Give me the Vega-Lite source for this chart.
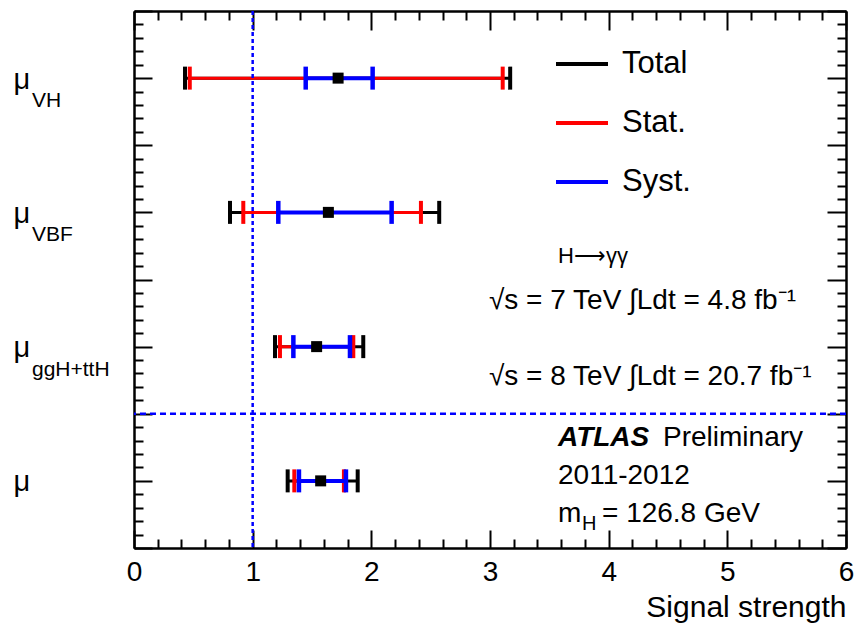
{
  "$schema": "https://vega.github.io/schema/vega-lite/v6.json",
  "width": 712,
  "height": 537,
  "autosize": {"type": "none"},
  "padding": {"left": 134, "top": 11, "right": 10, "bottom": 78},
  "background": "white",
  "config": {
    "view": {"stroke": null},
    "font": "Liberation Sans",
    "axis": {
      "grid": false,
      "domainColor": "black",
      "domainWidth": 2,
      "tickColor": "black",
      "tickWidth": 2,
      "labelFont": "Liberation Sans",
      "labelColor": "black",
      "titleFont": "Liberation Sans",
      "titleColor": "black",
      "titleFontWeight": "normal",
      "labelFlush": false,
      "labelOverlap": false
    }
  },
  "datasets": {
    "mu": [
      {"param": "VH", "pos": 7, "mu": 1.72, "tot_lo": 0.43, "tot_hi": 3.17, "stat_lo": 0.47, "stat_hi": 3.107, "syst_lo": 1.447, "syst_hi": 2.011},
      {"param": "VBF", "pos": 5, "mu": 1.638, "tot_lo": 0.809, "tot_hi": 2.572, "stat_lo": 0.921, "stat_hi": 2.418, "syst_lo": 1.216, "syst_hi": 2.171},
      {"param": "ggH+ttH", "pos": 3, "mu": 1.539, "tot_lo": 1.188, "tot_hi": 1.932, "stat_lo": 1.23, "stat_hi": 1.848, "syst_lo": 1.343, "syst_hi": 1.82},
      {"param": "", "pos": 1, "mu": 1.573, "tot_lo": 1.295, "tot_hi": 1.885, "stat_lo": 1.351, "stat_hi": 1.769, "syst_lo": 1.39, "syst_hi": 1.786}
    ]
  },
  "data": {"name": "mu"},
  "layer": [
    {
      "mark": {"type": "rule", "strokeWidth": 3},
      "encoding": {
        "x": {
          "field": "tot_lo", "type": "quantitative",
          "scale": {"domain": [0, 6], "nice": false, "zero": false},
          "axis": {"orient": "bottom", "values": [0, 1, 2, 3, 4, 5, 6], "tickSize": -18, "labelPadding": 28, "labelFontSize": 28, "title": "Signal strength", "titleFontSize": 30, "titleAnchor": "end", "titlePadding": 6}
        },
        "x2": {"field": "tot_hi"},
        "y": {
          "field": "pos", "type": "quantitative",
          "scale": {"domain": [0, 8], "nice": false, "zero": false},
          "axis": {"orient": "left", "values": [0, 1, 2, 3, 4, 5, 6, 7, 8], "tickSize": -18, "labelExpr": "datum.value % 2 == 1 ? 'μ' : ''", "labelAlign": "left", "labelBaseline": "alphabetic", "labelPadding": 139, "labelOffset": 10, "labelFontSize": 29, "title": null}
        },
        "color": {
          "datum": "Total",
          "scale": {"domain": ["Total", "Stat.", "Syst."], "range": ["#000000", "#ff0000", "#0000ff"]},
          "legend": {"orient": "none", "legendX": 420, "legendY": 25, "title": null, "symbolType": "stroke", "symbolSize": 2704, "symbolStrokeWidth": 4, "labelFontSize": 31, "labelFont": "Liberation Sans", "labelColor": "black", "labelOffset": 12, "rowPadding": 16, "padding": 0}
        }
      }
    },
    {
      "transform": [{"fold": ["tot_lo", "tot_hi"], "as": ["end", "xv"]}],
      "mark": {"type": "tick", "orient": "vertical", "size": 23, "thickness": 4, "opacity": 1},
      "encoding": {
        "x": {"field": "xv", "type": "quantitative", "axis": {"orient": "bottom", "values": [0.2, 0.4, 0.6, 0.8, 1.2, 1.4, 1.6, 1.8, 2.2, 2.4, 2.6, 2.8, 3.2, 3.4, 3.6, 3.8, 4.2, 4.4, 4.6, 4.8, 5.2, 5.4, 5.6, 5.8], "tickSize": -9, "labels": false, "title": null}},
        "y": {"field": "pos", "type": "quantitative", "axis": {"orient": "left", "values": [0.2, 0.4, 0.6, 0.8, 1.2, 1.4, 1.6, 1.8, 2.2, 2.4, 2.6, 2.8, 3.2, 3.4, 3.6, 3.8, 4.2, 4.4, 4.6, 4.8, 5.2, 5.4, 5.6, 5.8, 6.2, 6.4, 6.6, 6.8, 7.2, 7.4, 7.6, 7.8], "tickSize": -9, "labels": false, "title": null}},
        "color": {"datum": "Total"}
      }
    },
    {
      "mark": {"type": "rule", "strokeWidth": 3},
      "encoding": {
        "x": {"field": "stat_lo", "type": "quantitative", "axis": {"orient": "top", "values": [0, 1, 2, 3, 4, 5, 6], "tickSize": -19, "labels": false, "title": null}},
        "x2": {"field": "stat_hi"},
        "y": {"field": "pos", "type": "quantitative", "axis": {"orient": "right", "values": [0, 1, 2, 3, 4, 5, 6, 7, 8], "tickSize": -19, "labels": false, "title": null}},
        "color": {"datum": "Stat."}
      }
    },
    {
      "transform": [{"fold": ["stat_lo", "stat_hi"], "as": ["end", "xv"]}],
      "mark": {"type": "tick", "orient": "vertical", "size": 23, "thickness": 4, "opacity": 1},
      "encoding": {
        "x": {"field": "xv", "type": "quantitative", "axis": {"orient": "top", "values": [0.2, 0.4, 0.6, 0.8, 1.2, 1.4, 1.6, 1.8, 2.2, 2.4, 2.6, 2.8, 3.2, 3.4, 3.6, 3.8, 4.2, 4.4, 4.6, 4.8, 5.2, 5.4, 5.6, 5.8], "tickSize": -9, "labels": false, "title": null}},
        "y": {"field": "pos", "type": "quantitative", "axis": {"orient": "right", "values": [0.2, 0.4, 0.6, 0.8, 1.2, 1.4, 1.6, 1.8, 2.2, 2.4, 2.6, 2.8, 3.2, 3.4, 3.6, 3.8, 4.2, 4.4, 4.6, 4.8, 5.2, 5.4, 5.6, 5.8, 6.2, 6.4, 6.6, 6.8, 7.2, 7.4, 7.6, 7.8], "tickSize": -9, "labels": false, "title": null}},
        "color": {"datum": "Stat."}
      }
    },
    {
      "mark": {"type": "rule", "strokeWidth": 4},
      "encoding": {
        "x": {"field": "syst_lo", "type": "quantitative", "axis": null},
        "x2": {"field": "syst_hi"},
        "y": {"field": "pos", "type": "quantitative", "axis": null},
        "color": {"datum": "Syst."}
      }
    },
    {
      "transform": [{"fold": ["syst_lo", "syst_hi"], "as": ["end", "xv"]}],
      "mark": {"type": "tick", "orient": "vertical", "size": 23, "thickness": 4.5, "opacity": 1},
      "encoding": {
        "x": {"field": "xv", "type": "quantitative", "axis": null},
        "y": {"field": "pos", "type": "quantitative", "axis": null},
        "color": {"datum": "Syst."}
      }
    },
    {
      "data": {"values": [{"ref": 1}]},
      "mark": {"type": "rule", "color": "#0000ff", "strokeWidth": 2.5, "strokeDash": [4, 3]},
      "encoding": {"x": {"field": "ref", "type": "quantitative", "axis": null}}
    },
    {
      "data": {"values": [{"split": 2}]},
      "mark": {"type": "rule", "color": "#0000ff", "strokeWidth": 2.5, "strokeDash": [6, 4]},
      "encoding": {"y": {"field": "split", "type": "quantitative", "axis": null}}
    },
    {
      "mark": {"type": "square", "size": 121, "color": "black", "filled": true, "opacity": 1},
      "encoding": {
        "x": {"field": "mu", "type": "quantitative", "axis": null},
        "y": {"field": "pos", "type": "quantitative", "axis": null}
      }
    },
    {
      "mark": {"type": "text", "align": "left", "baseline": "alphabetic", "dx": -102, "dy": 29, "fontSize": 21, "font": "Liberation Sans", "color": "black"},
      "encoding": {
        "x": {"datum": 0, "type": "quantitative", "axis": null},
        "y": {"field": "pos", "type": "quantitative", "axis": null},
        "text": {"field": "param"}
      }
    },
    {
      "data": {"values": [{"t": "H⟶γγ"}]},
      "mark": {"type": "text", "align": "left", "baseline": "alphabetic", "fontSize": 22, "font": "Liberation Sans", "color": "black"},
      "encoding": {
        "x": {"datum": 3.573, "type": "quantitative", "axis": null},
        "y": {"datum": 4.246, "type": "quantitative", "axis": null},
        "text": {"field": "t"}
      }
    },
    {
      "data": {"values": [{"t": "√s = 7 TeV  ∫Ldt = 4.8 fb⁻¹"}]},
      "mark": {"type": "text", "align": "left", "baseline": "alphabetic", "fontSize": 28, "font": "Liberation Sans", "color": "black"},
      "encoding": {
        "x": {"datum": 2.991, "type": "quantitative", "axis": null},
        "y": {"datum": 3.56, "type": "quantitative", "axis": null},
        "text": {"field": "t"}
      }
    },
    {
      "data": {"values": [{"t": "√s = 8 TeV  ∫Ldt = 20.7 fb⁻¹"}]},
      "mark": {"type": "text", "align": "left", "baseline": "alphabetic", "fontSize": 28, "font": "Liberation Sans", "color": "black"},
      "encoding": {
        "x": {"datum": 2.991, "type": "quantitative", "axis": null},
        "y": {"datum": 2.428, "type": "quantitative", "axis": null},
        "text": {"field": "t"}
      }
    },
    {
      "data": {"values": [{"t": "ATLAS"}]},
      "mark": {"type": "text", "align": "left", "baseline": "alphabetic", "fontSize": 28, "fontWeight": "bold", "fontStyle": "italic", "font": "Liberation Sans", "color": "black"},
      "encoding": {
        "x": {"datum": 3.573, "type": "quantitative", "axis": null},
        "y": {"datum": 1.52, "type": "quantitative", "axis": null},
        "text": {"field": "t"}
      }
    },
    {
      "data": {"values": [{"t": "Preliminary"}]},
      "mark": {"type": "text", "align": "left", "baseline": "alphabetic", "fontSize": 28, "font": "Liberation Sans", "color": "black"},
      "encoding": {
        "x": {"datum": 4.458, "type": "quantitative", "axis": null},
        "y": {"datum": 1.52, "type": "quantitative", "axis": null},
        "text": {"field": "t"}
      }
    },
    {
      "data": {"values": [{"t": "2011-2012"}]},
      "mark": {"type": "text", "align": "left", "baseline": "alphabetic", "fontSize": 28, "font": "Liberation Sans", "color": "black"},
      "encoding": {
        "x": {"datum": 3.573, "type": "quantitative", "axis": null},
        "y": {"datum": 0.953, "type": "quantitative", "axis": null},
        "text": {"field": "t"}
      }
    },
    {
      "data": {"values": [{"t": "m"}]},
      "mark": {"type": "text", "align": "left", "baseline": "alphabetic", "fontSize": 28, "font": "Liberation Sans", "color": "black"},
      "encoding": {
        "x": {"datum": 3.573, "type": "quantitative", "axis": null},
        "y": {"datum": 0.387, "type": "quantitative", "axis": null},
        "text": {"field": "t"}
      }
    },
    {
      "data": {"values": [{"t": "H"}]},
      "mark": {"type": "text", "align": "left", "baseline": "alphabetic", "dx": 24, "dy": 8, "fontSize": 20, "font": "Liberation Sans", "color": "black"},
      "encoding": {
        "x": {"datum": 3.573, "type": "quantitative", "axis": null},
        "y": {"datum": 0.387, "type": "quantitative", "axis": null},
        "text": {"field": "t"}
      }
    },
    {
      "data": {"values": [{"t": "= 126.8 GeV"}]},
      "mark": {"type": "text", "align": "left", "baseline": "alphabetic", "dx": 44, "fontSize": 28, "font": "Liberation Sans", "color": "black"},
      "encoding": {
        "x": {"datum": 3.573, "type": "quantitative", "axis": null},
        "y": {"datum": 0.387, "type": "quantitative", "axis": null},
        "text": {"field": "t"}
      }
    }
  ],
  "resolve": {"axis": {"x": "independent", "y": "independent"}}
}
